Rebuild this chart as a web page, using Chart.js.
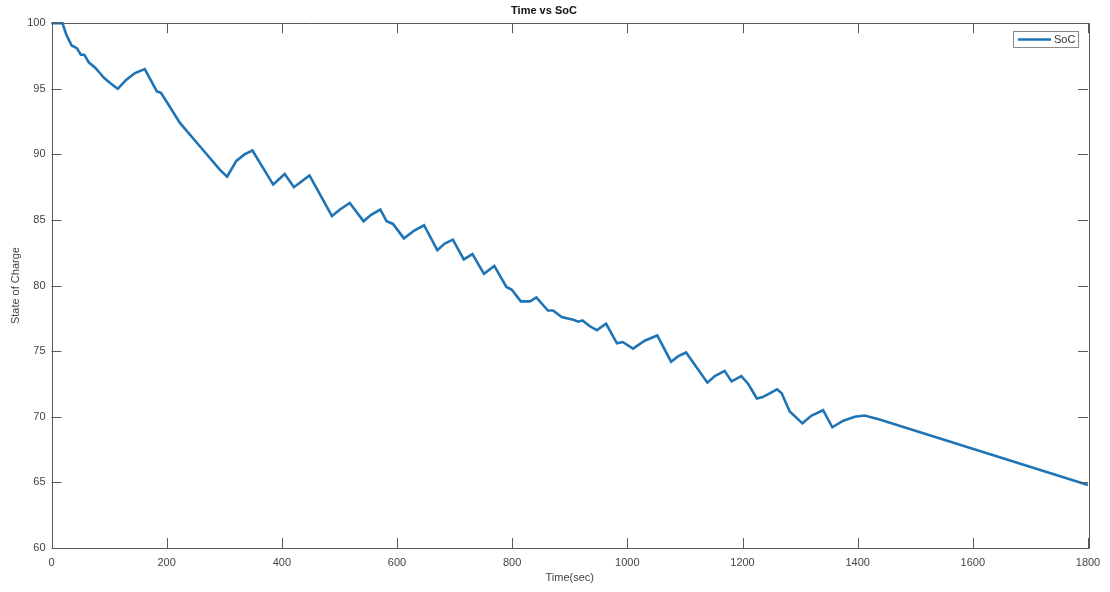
<!DOCTYPE html>
<html>
<head>
<meta charset="utf-8">
<script src="https://cdn.jsdelivr.net/npm/chart.js@4.4.1/dist/chart.umd.min.js"></script>
<style>
  html, body { margin: 0; padding: 0; background: #fff; }
  #wrap { width: 1110px; height: 592px; }
</style>
</head>
<body>
<div id="wrap"><canvas id="c" width="1110" height="592"></canvas></div>
<script>
// ---- data ----
const timeSec = [0, 19, 26, 35, 44, 51, 57, 65, 76, 82, 92, 103, 115, 130, 145, 162, 183, 190, 203, 223, 258, 293, 305, 321, 335, 349, 385, 405, 421, 448, 472, 487, 501, 518, 542, 555, 571, 582, 593, 612, 630, 647, 670, 683, 697, 716, 731, 751, 769, 790, 799, 815, 831, 842, 862, 871, 886, 906, 915, 922, 935, 947, 963, 982, 992, 1010, 1030, 1052, 1076, 1088, 1102, 1139, 1152, 1169, 1181, 1198, 1210, 1225, 1235, 1248, 1260, 1268, 1282, 1304, 1320, 1340, 1356, 1375, 1395, 1412, 1438, 1713, 1800];
const socValues = [100, 100, 99.1, 98.3, 98.1, 97.6, 97.6, 97.0, 96.6, 96.3, 95.8, 95.4, 95.0, 95.7, 96.2, 96.5, 94.8, 94.7, 93.8, 92.4, 90.6, 88.8, 88.3, 89.5, 90.0, 90.3, 87.7, 88.5, 87.5, 88.4, 86.5, 85.3, 85.8, 86.3, 84.9, 85.4, 85.8, 84.9, 84.7, 83.6, 84.2, 84.6, 82.7, 83.2, 83.5, 82.0, 82.4, 80.9, 81.5, 79.9, 79.7, 78.8, 78.8, 79.1, 78.1, 78.1, 77.6, 77.4, 77.25, 77.35, 76.9, 76.6, 77.1, 75.6, 75.7, 75.2, 75.8, 76.2, 74.2, 74.6, 74.9, 72.6, 73.1, 73.5, 72.7, 73.1, 72.5, 71.4, 71.5, 71.8, 72.1, 71.8, 70.4, 69.5, 70.1, 70.5, 69.2, 69.7, 70.0, 70.1, 69.8, 66.0, 64.8];
const xTickValues = [0, 200, 400, 600, 800, 1000, 1200, 1400, 1600, 1800];
const yTickValues = [60, 65, 70, 75, 80, 85, 90, 95, 100];
const seriesName = 'SoC';
const chartTitle = 'Time vs SoC';
const xTitle = 'Time(sec)';
const yTitle = 'State of Charge';

const lineColor = '#1f74b6';
const axisColor = '#5a5a5a';
const textColor = '#444444';
const fontFamily = '"Liberation Sans", Arial, Helvetica, sans-serif';

const points = timeSec.map((t, i) => ({ x: t, y: socValues[i] }));

const boxPlugin = {
  id: 'matlabBox',
  afterDraw(chart) {
    const { ctx, chartArea: { left, right, top, bottom }, scales: { x, y } } = chart;
    const tl = 10;
    ctx.save();
    ctx.strokeStyle = axisColor;
    ctx.lineWidth = 1;
    ctx.beginPath();
    ctx.rect(Math.round(left) + 0.5, Math.round(top) + 0.5, Math.round(right - left), Math.round(bottom - top));
    ctx.stroke();
    ctx.beginPath();
    x.ticks.forEach(t => {
      const px = Math.round(x.getPixelForValue(t.value)) + 0.5;
      ctx.moveTo(px, bottom); ctx.lineTo(px, bottom - tl);
      ctx.moveTo(px, top); ctx.lineTo(px, top + tl);
    });
    y.ticks.forEach(t => {
      const py = Math.round(y.getPixelForValue(t.value)) + 0.5;
      ctx.moveTo(left, py); ctx.lineTo(left + tl, py);
      ctx.moveTo(right, py); ctx.lineTo(right - tl, py);
    });
    ctx.stroke();

    // legend box (top-right, inside axes)
    const lx0 = 1013, ly0 = 31, lw = 65, lh = 16;
    ctx.fillStyle = '#ffffff';
    ctx.fillRect(lx0, ly0, lw, lh);
    ctx.strokeStyle = '#8a8a8a';
    ctx.strokeRect(lx0 + 0.5, ly0 + 0.5, lw, lh);
    ctx.strokeStyle = lineColor;
    ctx.lineWidth = 2.5;
    ctx.beginPath();
    ctx.moveTo(lx0 + 5, ly0 + lh / 2 + 0.5);
    ctx.lineTo(lx0 + 38, ly0 + lh / 2 + 0.5);
    ctx.stroke();
    ctx.fillStyle = '#333333';
    ctx.font = '11px ' + fontFamily;
    ctx.textBaseline = 'middle';
    ctx.textAlign = 'left';
    ctx.fillText(chart.data.datasets[0].label, lx0 + 41, ly0 + lh / 2 + 1);
    ctx.restore();
  }
};

new Chart(document.getElementById('c'), {
  type: 'line',
  data: {
    datasets: [{
      label: seriesName,
      data: points,
      borderColor: lineColor,
      backgroundColor: lineColor,
      borderWidth: 2.6,
      pointRadius: 0,
      tension: 0,
      fill: false,
      clip: { left: 2, top: 3, right: 2, bottom: 2 }
    }]
  },
  options: {
    responsive: false,
    animation: false,
    events: [],
    layout: { padding: { left: 0, right: 22, top: 0, bottom: 0 } },
    plugins: {
      legend: { display: false },
      tooltip: { enabled: false },
      title: {
        display: true,
        text: chartTitle,
        color: '#111111',
        font: { family: fontFamily, size: 11, weight: 'bold', lineHeight: 1.2 },
        padding: { top: 4, bottom: 6 }
      }
    },
    scales: {
      x: {
        type: 'linear',
        min: 0, max: 1800,
        afterBuildTicks: s => { s.ticks = xTickValues.map(v => ({ value: v })); },
        afterFit: s => { s.height = 44; },
        grid: { display: false, drawTicks: false },
        border: { display: false },
        ticks: { color: textColor, padding: 8, maxRotation: 0, autoSkip: false,
                 font: { family: fontFamily, size: 11 },
                 callback: v => String(v) },
        title: { display: true, text: xTitle, color: textColor,
                 font: { family: fontFamily, size: 11 }, padding: { top: 0, bottom: 7 } }
      },
      y: {
        type: 'linear',
        min: 60, max: 100,
        afterBuildTicks: s => { s.ticks = yTickValues.map(v => ({ value: v })); },
        afterFit: s => { s.width = 51.5; },
        grid: { display: false, drawTicks: false },
        border: { display: false },
        ticks: { color: textColor, padding: 6, autoSkip: false,
                 font: { family: fontFamily, size: 11 },
                 callback: v => String(v) },
        title: { display: true, text: yTitle, color: textColor,
                 font: { family: fontFamily, size: 11 }, padding: { top: 9, bottom: 0 } }
      }
    }
  },
  plugins: [boxPlugin]
});
</script>
</body>
</html>
